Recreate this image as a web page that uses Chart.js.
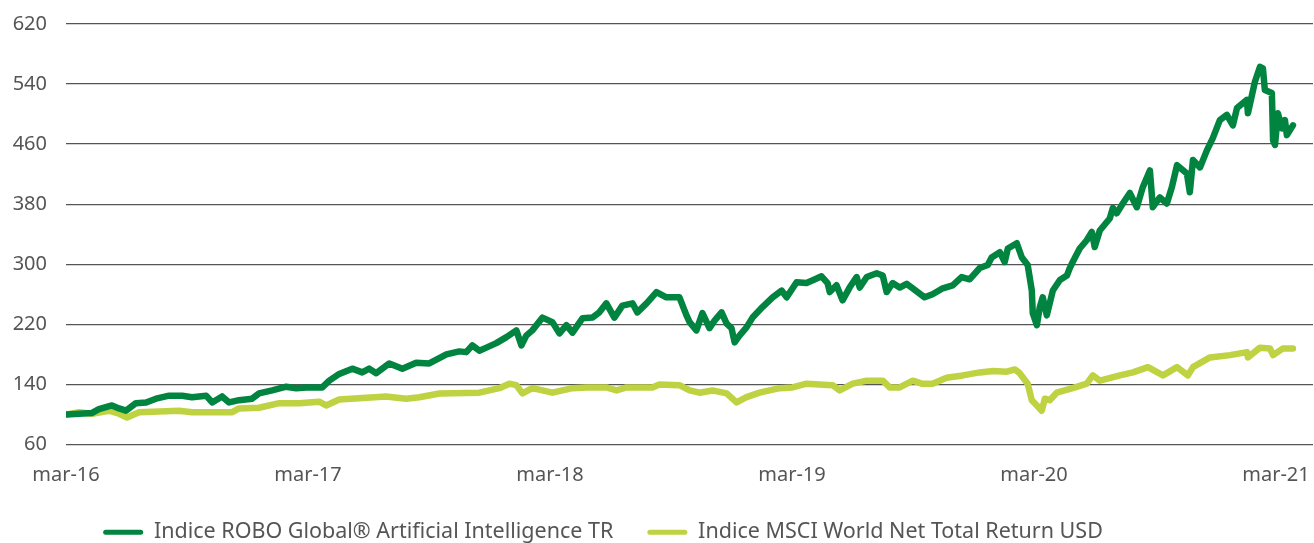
<!DOCTYPE html>
<html>
<head>
<meta charset="utf-8">
<script src="https://cdn.jsdelivr.net/npm/chart.js@4"></script>
<style>
  body { margin: 0; background: #fff; }
  #wrap { position: relative; width: 1314px; height: 543px; }
</style>
</head>
<body>
<div id="wrap"><canvas id="perfChart"></canvas></div>
<script>
// x values are years since March 2016
const xTickValues = [0, 1, 2, 3, 4, 5];
const xTickLabels = ['mar-16', 'mar-17', 'mar-18', 'mar-19', 'mar-20', 'mar-21'];

const roboLabel = 'Indice ROBO Global\u00AE Artificial Intelligence TR';
const roboYears = [0, 0.054, 0.108, 0.136, 0.190, 0.219, 0.248, 0.289, 0.331, 0.372, 0.426, 0.480, 0.521, 0.579, 0.604, 0.645, 0.674, 0.715, 0.769, 0.798, 0.852, 0.910, 0.951, 0.993, 1.059, 1.088, 1.129, 1.183, 1.224, 1.253, 1.282, 1.336, 1.390, 1.447, 1.501, 1.572, 1.625, 1.654, 1.679, 1.708, 1.737, 1.778, 1.820, 1.861, 1.882, 1.902, 1.927, 1.969, 2.010, 2.039, 2.068, 2.093, 2.134, 2.175, 2.204, 2.233, 2.266, 2.299, 2.341, 2.361, 2.399, 2.440, 2.481, 2.535, 2.564, 2.577, 2.605, 2.630, 2.659, 2.680, 2.709, 2.730, 2.750, 2.763, 2.783, 2.812, 2.837, 2.878, 2.920, 2.957, 2.978, 3.019, 3.060, 3.102, 3.122, 3.147, 3.156, 3.184, 3.209, 3.238, 3.267, 3.280, 3.309, 3.350, 3.375, 3.391, 3.416, 3.445, 3.474, 3.499, 3.548, 3.581, 3.623, 3.664, 3.701, 3.734, 3.776, 3.809, 3.825, 3.859, 3.879, 3.892, 3.929, 3.950, 3.974, 3.991, 3.995, 4.012, 4.024, 4.036, 4.053, 4.078, 4.107, 4.136, 4.148, 4.160, 4.189, 4.218, 4.239, 4.251, 4.272, 4.313, 4.326, 4.342, 4.367, 4.396, 4.425, 4.450, 4.479, 4.491, 4.520, 4.549, 4.570, 4.591, 4.632, 4.644, 4.657, 4.686, 4.715, 4.739, 4.768, 4.797, 4.822, 4.839, 4.880, 4.884, 4.913, 4.934, 4.946, 4.954, 4.983, 4.988, 4.996, 5.008, 5.025, 5.037, 5.045, 5.070];
const roboValues = [100, 101, 102, 107, 112, 108, 105, 115, 116, 121, 125, 125, 123, 125, 116, 124, 116, 119, 121, 128, 132, 137, 135, 136, 136, 145, 154, 161, 156, 161, 155, 168, 161, 169, 168, 180, 184, 183, 192, 185, 189, 195, 203, 212, 192, 205, 212, 229, 223, 208, 219, 209, 228, 229, 236, 248, 229, 245, 248, 236, 248, 263, 256, 256, 232, 223, 212, 235, 215, 225, 236, 221, 215, 196, 205, 216, 229, 243, 256, 265, 256, 276, 275, 281, 284, 275, 263, 272, 252, 269, 283, 269, 283, 288, 285, 263, 275, 269, 274, 268, 256, 260, 268, 272, 283, 280, 295, 299, 309, 316, 303, 321, 328, 309, 299, 265, 235, 219, 243, 256, 232, 265, 279, 285, 295, 303, 321, 332, 343, 323, 345, 361, 375, 368, 381, 395, 376, 403, 425, 376, 389, 381, 403, 432, 421, 396, 439, 429, 452, 468, 492, 499, 485, 508, 519, 501, 543, 563, 561, 532, 528, 465, 459, 501, 481, 492, 472, 485];

const msciLabel = 'Indice MSCI World Net Total Return USD';
const msciYears = [0, 0.054, 0.108, 0.178, 0.219, 0.252, 0.302, 0.385, 0.467, 0.521, 0.687, 0.715, 0.798, 0.881, 0.964, 1.046, 1.075, 1.129, 1.323, 1.406, 1.460, 1.543, 1.708, 1.791, 1.832, 1.861, 1.886, 1.927, 2.010, 2.093, 2.151, 2.233, 2.275, 2.316, 2.423, 2.452, 2.535, 2.577, 2.618, 2.672, 2.730, 2.771, 2.812, 2.866, 2.949, 3.002, 3.060, 3.168, 3.197, 3.251, 3.309, 3.375, 3.404, 3.445, 3.499, 3.536, 3.581, 3.639, 3.706, 3.776, 3.830, 3.888, 3.921, 3.941, 3.974, 3.991, 4.012, 4.032, 4.045, 4.065, 4.094, 4.160, 4.218, 4.243, 4.272, 4.355, 4.409, 4.471, 4.533, 4.591, 4.636, 4.657, 4.727, 4.810, 4.880, 4.884, 4.934, 4.975, 4.988, 5.029, 5.070];
const msciValues = [100, 103, 101, 105, 101, 96, 103, 104, 105, 103, 103, 108, 109, 115, 115, 117, 112, 120, 124, 121, 123, 128, 129, 135, 141, 139, 128, 135, 129, 135, 136, 136, 132, 136, 136, 140, 139, 132, 129, 132, 128, 116, 123, 129, 135, 136, 141, 139, 132, 141, 145, 145, 136, 136, 145, 141, 141, 149, 152, 156, 158, 157, 160, 155, 141, 119, 112, 105, 121, 119, 129, 135, 141, 152, 145, 152, 156, 163, 152, 163, 152, 163, 176, 179, 183, 176, 189, 188, 179, 188, 188];

const yMin = 60;
const yMax = 620;
const yStep = 80;

const roboColor = '#00843f';
const msciColor = '#bed242';
const textColor = '#555555';

function toPoints(xs, ys) {
    return xs.map((x, i) => ({ x: x, y: ys[i] }));
}

function lineDataset(label, xs, ys, color) {
    return {
        label: label,
        data: toPoints(xs, ys),
        borderColor: color,
        backgroundColor: color,
        borderWidth: 6.5,
        pointRadius: 0,
        tension: 0,
        borderJoinStyle: 'round',
        borderCapStyle: 'round'
    };
}

// the legend in the original sits left of centre
const shiftLegend = {
    id: 'shiftLegend',
    afterLayout(chart) {
        if (chart.legend) chart.legend.right -= 107;
    }
};

const ctx = document.getElementById('perfChart').getContext('2d');

const myChart = new Chart(ctx, {
    type: 'line',
    data: {
        datasets: [
            lineDataset(roboLabel, roboYears, roboValues, roboColor),
            lineDataset(msciLabel, msciYears, msciValues, msciColor)
        ]
    },
    plugins: [shiftLegend],
    options: {
        responsive: true,
        maintainAspectRatio: false,
        animation: false,
        layout: { padding: { top: 24, right: 1, left: 0, bottom: -10 } },
        plugins: {
            tooltip: { enabled: false },
            legend: {
                position: 'bottom',
                labels: {
                    boxWidth: 40,
                    boxHeight: 5,
                    padding: 34,
                    useBorderRadius: true,
                    color: textColor,
                    font: { family: 'Noto Sans', size: 21.5 },
                    // flat legend bars instead of outlined boxes
                    generateLabels: (chart) => Chart.defaults.plugins.legend.labels.generateLabels(chart)
                        .map(item => Object.assign(item, { lineWidth: 0, borderRadius: 2.5 }))
                }
            }
        },
        scales: {
            x: {
                type: 'linear',
                min: 0,
                max: 5.153,
                grid: { display: false },
                border: { display: false },
                afterBuildTicks: (scale) => {
                    scale.ticks = xTickValues.map(v => ({ value: v }));
                },
                afterFit: (scale) => {
                    scale.paddingLeft = 0;
                    scale.paddingRight = 0;
                    scale.height = 43;
                },
                ticks: {
                    padding: 11,
                    maxRotation: 0,
                    autoSkip: false,
                    color: textColor,
                    font: { family: 'Noto Sans', size: 20 },
                    callback: (value) => xTickLabels[xTickValues.indexOf(value)]
                }
            },
            y: {
                min: yMin,
                max: yMax,
                border: { display: false },
                grid: { color: '#555555', lineWidth: 1.3, drawTicks: false },
                afterFit: (scale) => {
                    scale.paddingTop = 0;
                    scale.paddingBottom = 0;
                    scale.width = 66;
                },
                ticks: {
                    stepSize: yStep,
                    padding: 19,
                    color: textColor,
                    font: { family: 'Noto Sans', size: 20 }
                }
            }
        }
    }
});
</script>
</body>
</html>
